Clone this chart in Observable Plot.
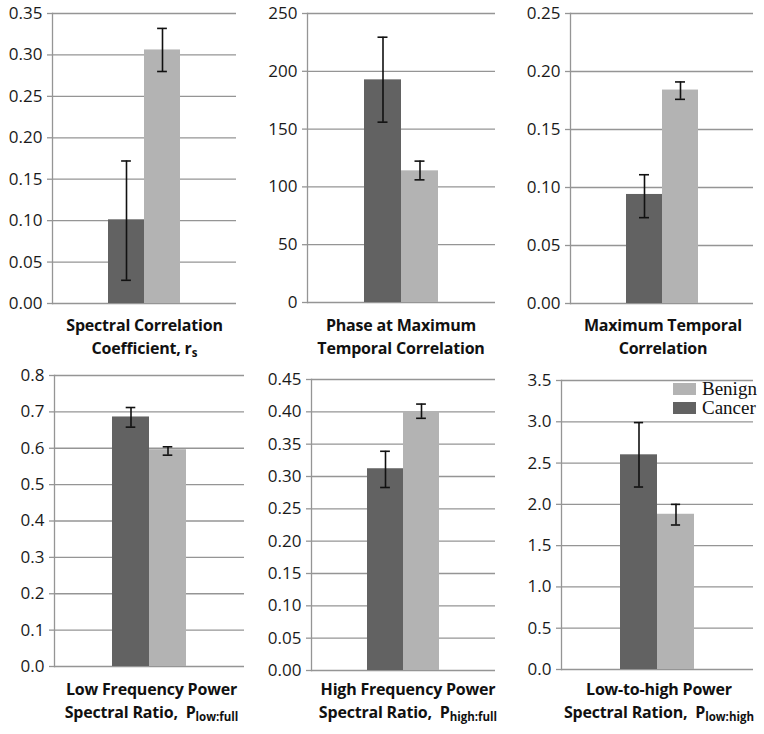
<!DOCTYPE html>
<html><head><meta charset="utf-8">
<script src="https://cdn.jsdelivr.net/npm/d3@7"></script>
<script src="https://cdn.jsdelivr.net/npm/@observablehq/plot@0.6"></script>
<style>
body{margin:0;background:#fff;}
#root{position:relative;width:764px;height:734px;overflow:hidden;background:#fff;font-family:"Open Sans",sans-serif;}
.panel{position:absolute;}
.title{position:absolute;text-align:center;font-weight:bold;font-size:16px;letter-spacing:-0.2px;line-height:23px;color:#111;white-space:nowrap;transform:translateX(-50%);}
.title sub{font-size:11.5px;vertical-align:-3px;line-height:0;letter-spacing:0;}
.legend{position:absolute;font-family:"Liberation Serif",serif;font-size:19px;line-height:19px;color:#111;}
.legend .row{display:flex;align-items:center;height:19px;}
.legend .sw{width:23px;height:12px;margin-right:6px;}
</style></head><body><div id="root"></div>
<script>
// ---- data ----
const groups = ["Cancer", "Benign"];
const titleLine1 = ["Spectral Correlation", "Phase at Maximum", "Maximum Temporal", "Low Frequency Power", "High Frequency Power", "Low-to-high Power"];
const titleLine2 = ["Coefficient, r<sub>s</sub>", "Temporal Correlation", "Correlation", "Spectral Ratio,&nbsp; P<sub>low:full</sub>", "Spectral Ratio,&nbsp; P<sub>high:full</sub>", "Spectral Ration,&nbsp; P<sub>low:high</sub>"];
const cancerMean = [0.101, 192.6, 0.094, 0.686, 0.312, 2.60];
const cancerLow  = [0.028, 156.0, 0.074, 0.658, 0.283, 2.21];
const cancerHigh = [0.172, 229.5, 0.111, 0.712, 0.339, 2.99];
const benignMean = [0.306, 113.9, 0.184, 0.596, 0.400, 1.88];
const benignLow  = [0.280, 106.1, 0.176, 0.581, 0.390, 1.75];
const benignHigh = [0.332, 122.3, 0.191, 0.604, 0.412, 2.00];
const yTicks = [
  [0, 0.05, 0.10, 0.15, 0.20, 0.25, 0.30, 0.35],
  [0, 50, 100, 150, 200, 250],
  [0, 0.05, 0.10, 0.15, 0.20, 0.25],
  [0, 0.1, 0.2, 0.3, 0.4, 0.5, 0.6, 0.7, 0.8],
  [0, 0.05, 0.10, 0.15, 0.20, 0.25, 0.30, 0.35, 0.40, 0.45],
  [0, 0.5, 1.0, 1.5, 2.0, 2.5, 3.0, 3.5]
];
const tickDecimals = [2, 0, 2, 1, 2, 1];
const legendLabels = ["Benign", "Cancer"];

// ---- layout / style ----
const colors = {Cancer: "#626262", Benign: "#b3b3b3"};
const layout = [
  {left: 0,   top: 0,   x0: 52,  x1: 236, y0: 13,  y1: 303, tx: 144.5, ty: 314},
  {left: 250, top: 0,   x0: 307, x1: 495, y0: 13,  y1: 302, tx: 401,   ty: 314},
  {left: 500, top: 0,   x0: 570, x1: 753, y0: 13,  y1: 303, tx: 663,   ty: 314},
  {left: 0,   top: 360, x0: 54,  x1: 244, y0: 375, y1: 666, tx: 151.5, ty: 678},
  {left: 250, top: 360, x0: 311, x1: 495, y0: 379, y1: 670, tx: 408,   ty: 678},
  {left: 500, top: 360, x0: 561, x1: 753, y0: 380, y1: 669, tx: 659,   ty: 678}
];
const gridColor = "#959595";
const root = document.getElementById("root");

layout.forEach((L, i) => {
  const data = groups.map((g, j) => ({
    group: g,
    mean: j ? benignMean[i] : cancerMean[i],
    low: j ? benignLow[i] : cancerLow[i],
    high: j ? benignHigh[i] : cancerHigh[i]
  }));
  const ticks = yTicks[i];
  const plotW = L.x1 - L.x0;
  const outer = 1.54;
  const bw = plotW / (2 + 2 * outer);
  const capInset = (bw - 10) / 2;
  const fmt = d3.format(`.${tickDecimals[i]}f`);
  const chart = Plot.plot({
    width: L.x1 - L.left + 4,
    height: L.y1 - L.top + 4,
    marginLeft: L.x0 - L.left,
    marginRight: 4,
    marginTop: L.y0 - L.top,
    marginBottom: 4,
    style: {fontFamily: "'Open Sans', sans-serif", fontSize: "17px", color: "#1a1a1a", background: "transparent", overflow: "visible"},
    x: {domain: groups, paddingInner: 0, paddingOuter: outer, axis: null},
    y: {domain: [0, ticks[ticks.length - 1]], axis: null, label: null},
    color: {domain: groups, range: groups.map(g => colors[g])},
    marks: [
      Plot.gridY(ticks, {stroke: gridColor, strokeOpacity: 1, strokeWidth: 1.3}),
      Plot.frame({anchor: "left", stroke: gridColor, strokeWidth: 1.3}),
      Plot.axisY(ticks, {tickSize: 5, tickPadding: 5, tickFormat: fmt, stroke: gridColor, strokeWidth: 1.3, fill: "#1a1a1a", fontSize: 17, label: null}),
      Plot.barY(data, {x: "group", y: "mean", fill: "group"}),
      Plot.ruleX(data, {x: "group", y1: "low", y2: "high", stroke: "#111", strokeWidth: 1.6}),
      Plot.tickY(data, {x: "group", y: "low", insetLeft: capInset, insetRight: capInset, stroke: "#111", strokeWidth: 1.6}),
      Plot.tickY(data, {x: "group", y: "high", insetLeft: capInset, insetRight: capInset, stroke: "#111", strokeWidth: 1.6})
    ]
  });
  const div = document.createElement("div");
  div.className = "panel";
  div.style.left = L.left + "px";
  div.style.top = L.top + "px";
  div.appendChild(chart);
  root.appendChild(div);

  const t = document.createElement("div");
  t.className = "title";
  t.style.left = L.tx + "px";
  t.style.top = L.ty + "px";
  t.innerHTML = titleLine1[i] + "<br>" + titleLine2[i];
  root.appendChild(t);
});

// legend (panel 6)
const leg = document.createElement("div");
leg.className = "legend";
leg.style.left = "673px";
leg.style.top = "379px";
legendLabels.forEach(g => {
  const row = document.createElement("div");
  row.className = "row";
  const sw = document.createElement("div");
  sw.className = "sw";
  sw.style.background = colors[g];
  const lab = document.createElement("span");
  lab.textContent = g;
  row.appendChild(sw);
  row.appendChild(lab);
  leg.appendChild(row);
});
root.appendChild(leg);
</script>
</body></html>
